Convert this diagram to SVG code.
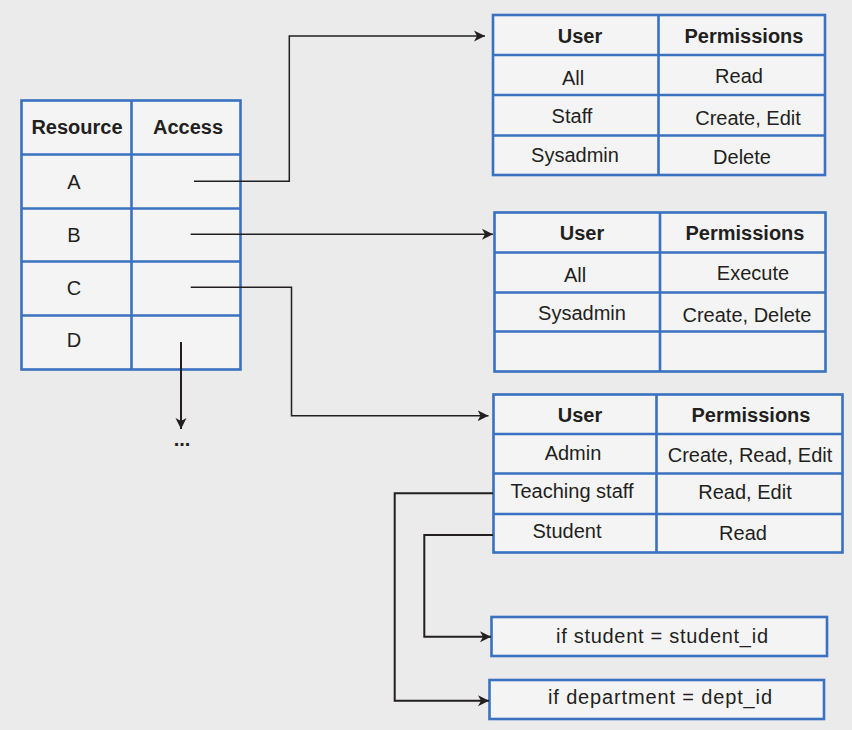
<svg xmlns="http://www.w3.org/2000/svg" width="852" height="730" viewBox="0 0 852 730">
<defs>
<marker id="ah" markerUnits="userSpaceOnUse" markerWidth="12" markerHeight="12" viewBox="0 0 12 12" refX="11" refY="6" orient="auto">
<path d="M0,0.5 L11,6 L0,11.5 L3,6 z" fill="#231f20"/>
</marker>
<style>
.bg{fill:#ebebeb}
.cell{fill:#f4f4f4;stroke:#3a71c1;stroke-width:2.6}
.grid{stroke:#3a71c1;stroke-width:2.6;fill:none}
text{font-family:"Liberation Sans",Arial,sans-serif;font-size:20px;fill:#231f20;text-anchor:middle}
.h{font-weight:bold}
.c{fill:none;stroke:#231f20;stroke-width:1.5}
.c2{fill:none;stroke:#231f20;stroke-width:2}
</style>
</defs>
<rect class="bg" x="0" y="0" width="852" height="730"/>

<g id="resource-table">
<rect class="cell" x="21.5" y="100.5" width="219" height="269"/>
<path class="grid" d="M131.5,100.5V369.5 M21.5,154.5H240.5 M21.5,208.5H240.5 M21.5,261.5H240.5 M21.5,315.5H240.5"/>
<text class="h" x="77" y="134">Resource</text>
<text class="h" x="188" y="134">Access</text>
<text x="74" y="189">A</text>
<text x="74" y="242">B</text>
<text x="74" y="295">C</text>
<text x="74" y="347">D</text>
</g>

<g id="table-a">
<rect class="cell" x="493" y="15" width="332" height="160"/>
<path class="grid" d="M658.5,15V175 M493,55H825 M493,95H825 M493,135.5H825"/>
<text class="h" x="580" y="43">User</text>
<text class="h" x="744" y="43">Permissions</text>
<text x="573" y="85">All</text>
<text x="739" y="83">Read</text>
<text x="572" y="123">Staff</text>
<text x="748" y="125">Create, Edit</text>
<text x="575" y="162">Sysadmin</text>
<text x="742" y="164">Delete</text>
</g>

<g id="table-b">
<rect class="cell" x="494.5" y="212.5" width="331" height="159"/>
<path class="grid" d="M660,212.5V371.5 M494.5,252.5H825.5 M494.5,292.5H825.5 M494.5,331.5H825.5"/>
<text class="h" x="582" y="240">User</text>
<text class="h" x="745" y="240">Permissions</text>
<text x="575" y="282">All</text>
<text x="753" y="280">Execute</text>
<text x="582" y="320">Sysadmin</text>
<text x="747" y="322">Create, Delete</text>
</g>

<g id="table-c">
<rect class="cell" x="493.5" y="394.5" width="349" height="158"/>
<path class="grid" d="M656.5,394.5V553 M493.5,434H842.5 M493.5,473.5H842.5 M493.5,514H842.5"/>
<text class="h" x="580" y="422">User</text>
<text class="h" x="751" y="422">Permissions</text>
<text x="573" y="460">Admin</text>
<text x="750" y="462">Create, Read, Edit</text>
<text x="572" y="498">Teaching staff</text>
<text x="745" y="499">Read, Edit</text>
<text x="567" y="538">Student</text>
<text x="743" y="540">Read</text>
</g>

<g id="cond-student">
<rect class="cell" x="491.5" y="617" width="335.5" height="39"/>
<text x="662" y="643" textLength="212" lengthAdjust="spacing">if student = student_id</text>
</g>

<g id="cond-dept">
<rect class="cell" x="489.5" y="680" width="334.5" height="39"/>
<text x="660" y="704" textLength="224" lengthAdjust="spacing">if department = dept_id</text>
</g>

<g id="connectors">
<path class="c" d="M194,181.3H289.3V36H485" marker-end="url(#ah)"/>
<path class="c" d="M190.7,234.3H493" marker-end="url(#ah)"/>
<path class="c" d="M190.7,287.3H291.5V415.7H488.5" marker-end="url(#ah)"/>
<path class="c2" d="M181,342V429" marker-end="url(#ah)"/>
<path class="c2" d="M493,493.3H394.7V700.7H489" marker-end="url(#ah)"/>
<path class="c2" d="M493,535H424.3V636.7H491" marker-end="url(#ah)"/>
<text class="h" x="182" y="446">...</text>
</g>
</svg>
